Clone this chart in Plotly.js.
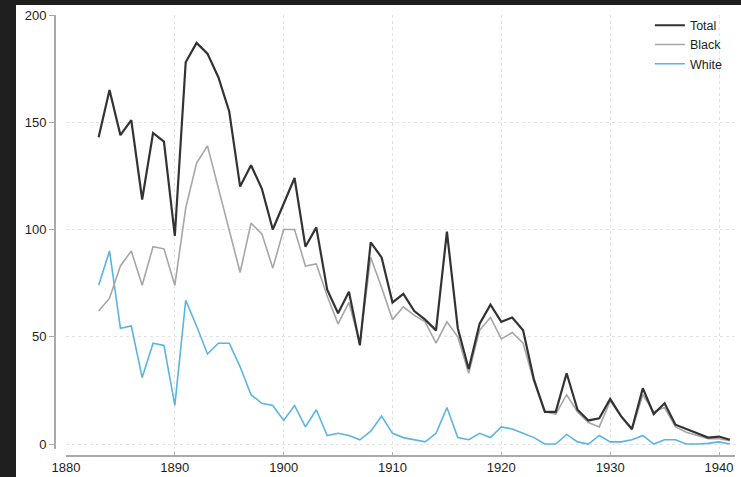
<!DOCTYPE html>
<html>
<head>
<meta charset="utf-8">
<script src="https://cdn.plot.ly/plotly-2.35.2.min.js"></script>
<style>
  html, body { margin: 0; padding: 0; background: #1f1f1f; width: 741px; height: 477px; overflow: hidden; }
  #chart { position: absolute; left: 16px; top: 5px; width: 725px; height: 472px; background: #fff; }
</style>
</head>
<body>
<div id="chart"></div>
<script>
// Years 1883–1941
const years = [1883,1884,1885,1886,1887,1888,1889,1890,1891,1892,1893,1894,1895,1896,1897,1898,1899,1900,
  1901,1902,1903,1904,1905,1906,1907,1908,1909,1910,1911,1912,1913,1914,1915,1916,1917,1918,1919,1920,
  1921,1922,1923,1924,1925,1926,1927,1928,1929,1930,1931,1932,1933,1934,1935,1936,1937,1938,1939,1940,1941];

const total = [143,165,144,151,114,145,141,97,178,187,182,171,155,120,130,119,100,112,
  124,92,101,72,61,71,46,94,87,66,70,62,58,53,99,54,35,56,65,57,
  59,53,30,15,15,33,16,11,12,21,13,7,26,14,19,9,7,5,3,3.5,2];

const black = [62,68,83,90,74,92,91,74,110,131,139,119,100,80,103,98,82,100,
  100,83,84,69,56,66,47,87,73,58,64,60,57,47,57,50,33,53,59,49,
  52,47,29,15,14,23,15,10,8,20,13,6.5,23,15,17,8,5.5,4,2.5,2.5,1.5];

const white = [74,90,54,55,31,47,46,18,67,55,42,47,47,36,23,19,18,11,
  18,8,16,4,5,4,2,6,13,5,3,2,1,5,17,3,2,5,3,8,
  7,5,3,0,0,4.5,1,0,4,1,1,2,4,0,2,2,0,0,0.3,1,0];

const seriesNames = ['White', 'Black', 'Total'];
const seriesData = [white, black, total];
const seriesColors = ['#5ab4e4', '#a6a6a6', '#333333'];
const seriesWidths = [1.6, 1.6, 2.2];

const xTicks = [1880, 1890, 1900, 1910, 1920, 1930, 1940];
const yTicks = [0, 50, 100, 150, 200];

const traces = seriesNames.map((name, i) => ({
  type: 'scatter',
  mode: 'lines',
  name: name,
  x: years,
  y: seriesData[i],
  line: { color: seriesColors[i], width: seriesWidths[i] },
  hoverinfo: 'skip'
}));

const font = { family: 'Liberation Sans, Arial, sans-serif', size: 13, color: '#1e1e1e' };

const layout = {
  width: 725,
  height: 472,
  margin: { l: 38, r: 6, t: 10, b: 22 },
  paper_bgcolor: '#ffffff',
  plot_bgcolor: '#ffffff',
  font: font,
  showlegend: true,
  legend: {
    x: 0.875, y: 1.01, xanchor: 'left', yanchor: 'top',
    traceorder: 'reversed',
    bgcolor: 'rgba(0,0,0,0)',
    font: { family: 'Liberation Sans, Arial, sans-serif', size: 12.5, color: '#1e1e1e' }
  },
  xaxis: {
    domain: [0.0176, 1],
    anchor: 'free',
    position: 0,
    range: [1880, 1941.47],
    tickvals: xTicks,
    ticktext: xTicks.map(String),
    ticks: 'inside',
    ticklen: 3,
    tickcolor: '#aaaaaa',
    showline: true,
    linecolor: '#aaaaaa',
    linewidth: 1.5,
    showgrid: true,
    gridcolor: '#e3e3e3',
    griddash: 'dot',
    gridwidth: 1,
    zeroline: false,
    automargin: false,
    fixedrange: true
  },
  yaxis: {
    domain: [0.0127, 1],
    anchor: 'free',
    position: 0,
    range: [-2.5, 200],
    tickvals: yTicks,
    ticktext: yTicks.map(String),
    ticks: 'outside',
    ticklen: 5,
    tickcolor: '#aaaaaa',
    showline: true,
    linecolor: '#aaaaaa',
    linewidth: 1.5,
    showgrid: true,
    gridcolor: '#e3e3e3',
    griddash: 'dot',
    gridwidth: 1,
    zeroline: false,
    automargin: false,
    fixedrange: true
  }
};

Plotly.newPlot('chart', traces, layout, { staticPlot: true, displayModeBar: false });
</script>
</body>
</html>
